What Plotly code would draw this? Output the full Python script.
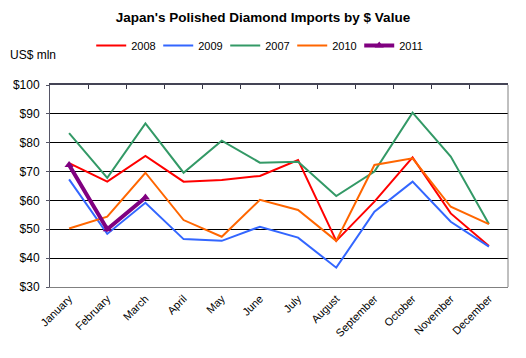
import plotly.graph_objects as go

months = ["January", "February", "March", "April", "May", "June", "July",
          "August", "September", "October", "November", "December"]
v2008 = [72.9, 66.5, 75.4, 66.5, 67.1, 68.5, 74.0, 46.0, 59.6, 74.9, 55.5, 44.2]
v2009 = [67.3, 48.4, 59.2, 46.6, 46.0, 50.9, 47.1, 36.7, 56.1, 66.5, 52.6, 44.0]
v2007 = [83.3, 67.8, 86.7, 69.6, 80.7, 73.1, 73.4, 61.5, 70.0, 90.4, 75.2, 51.8]
v2010 = [50.3, 54.4, 69.6, 53.2, 47.4, 60.2, 56.7, 46.0, 72.3, 74.6, 57.8, 51.8]
v2011 = [72.3, 50.0, 61.0]
yticks = [30, 40, 50, 60, 70, 80, 90, 100]
ytick_text = ["$30", "$40", "$50", "$60", "$70", "$80", "$90", "$100"]

FONT = "Liberation Sans, Arial, sans-serif"

fig = go.Figure()
fig.add_trace(go.Scatter(x=months, y=v2008, name="2008", mode="lines",
                         line=dict(color="#FF0000", width=2)))
fig.add_trace(go.Scatter(x=months, y=v2009, name="2009", mode="lines",
                         line=dict(color="#3366FF", width=2)))
fig.add_trace(go.Scatter(x=months, y=v2007, name="2007", mode="lines",
                         line=dict(color="#339966", width=2)))
fig.add_trace(go.Scatter(x=months, y=v2010, name="2010", mode="lines",
                         line=dict(color="#FF6600", width=2)))
fig.add_trace(go.Scatter(x=months[:len(v2011)], y=v2011, name="2011", mode="lines+markers",
                         line=dict(color="#800080", width=4),
                         marker=dict(symbol="triangle-up", size=8, color="#800080")))
# invisible trace to anchor top tick axis
fig.add_trace(go.Scatter(x=[0.5, 11.5], y=[None, None], xaxis="x2", showlegend=False,
                         hoverinfo="skip", mode="lines"))

fig.update_layout(
    width=526, height=358,
    paper_bgcolor="white", plot_bgcolor="white",
    margin=dict(l=42, r=26, t=77, b=79, autoexpand=False),
    font=dict(family=FONT, size=11, color="black"),
    title=dict(text="<b>Japan's Polished Diamond Imports by $ Value</b>",
               x=0.5 - 8 / 526, xanchor="center", y=0.975, yanchor="middle",
               font=dict(family=FONT, size=13.5, color="black")),
    showlegend=True,
    legend=dict(orientation="h", x=0.09, xanchor="left", y=1.195, yanchor="middle",
                font=dict(family=FONT, size=11, color="black"),
                itemwidth=30, entrywidth=22, tracegroupgap=0, bgcolor="rgba(0,0,0,0)"),
    xaxis=dict(type="category", categoryorder="array", categoryarray=months,
               range=[-0.5, 11.5], tickangle=-45, showgrid=False, automargin=False,
               ticks="", showline=True, linecolor="#808080", linewidth=1,
               tickfont=dict(family=FONT, size=11, color="black"), zeroline=False),
    xaxis2=dict(overlaying="x", side="top", range=[-0.5, 11.5], anchor="y", automargin=False,
                tickvals=[i - 0.5 for i in range(13)], ticks="inside", ticklen=4,
                tickcolor="#333344", showticklabels=False, showgrid=False,
                showline=True, linecolor="#444455", linewidth=2, zeroline=False),
    yaxis=dict(range=[30, 100], tickvals=yticks, ticktext=ytick_text, automargin=False,
               showgrid=True, gridcolor="black", gridwidth=1,
               ticks="outside", ticklen=3, tickcolor="#555566", ticklabelstandoff=4,
               showline=True, linecolor="#555566", linewidth=1, mirror=False,
               tickfont=dict(family=FONT, size=12, color="black"), zeroline=False),
    annotations=[dict(text="US$ mln", xref="paper", yref="paper", x=-0.092, y=1.149,
                      xanchor="left", yanchor="middle", showarrow=False,
                      font=dict(family=FONT, size=12, color="black"))],
    shapes=[dict(type="line", xref="paper", yref="paper", x0=1, x1=1, y0=0, y1=1,
                 line=dict(color="#808080", width=1))],
)

fig.write_html("out.html")
